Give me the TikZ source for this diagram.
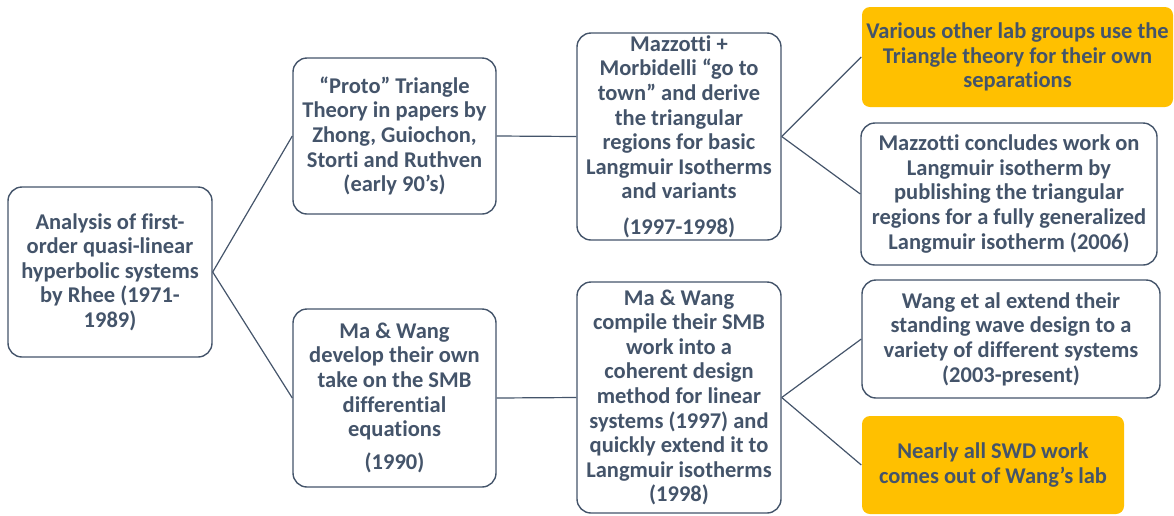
\documentclass[tikz,border=0pt]{standalone}
\usepackage{fontspec}
\setmainfont{Carlito}[Ligatures=NoCommon]
\definecolor{txt}{HTML}{44546A}
\definecolor{gold}{HTML}{FFC000}
\begin{document}
\begin{tikzpicture}[x=1pt,y=-1pt,
 box/.style={draw=txt, line width=1.4pt, rounded corners=14pt, fill=white, inner sep=0pt, align=center, text=txt, font=\bfseries\fontsize{22.5}{24.6}\selectfont},
 hl/.style={box, draw=none, fill=gold, rounded corners=8pt},
 link/.style={draw=txt, line width=1.2pt}]
\useasboundingbox (0,0) rectangle (1174,515);
\node[box, minimum width=204, minimum height=170] (A) at (110,272)
 {Analysis of first-\\order quasi-linear\\hyperbolic systems\\by Rhee (1971-\\1989)};
\node[box, minimum width=203, minimum height=156] (B) at (394.5,136)
 {“Proto” Triangle\\Theory in papers by\\Zhong, Guiochon,\\Storti and Ruthven\\(early 90’s)};
\node[box, minimum width=203, minimum height=178] (F) at (394.5,398)
 {Ma \& Wang\\develop their own\\take on the SMB\\differential\\equations\\[8.5pt](1990)};
\node[box, minimum width=204, minimum height=207] (C) at (679,136.5)
 {Mazzotti +\\Morbidelli “go to\\town” and derive\\the triangular\\regions for basic\\Langmuir Isotherms\\and variants\\[10.5pt](1997-1998)};
\node[box, minimum width=204, minimum height=231] (G) at (679,397.5)
 {Ma \& Wang\\compile their SMB\\work into a\\coherent design\\method for linear\\systems (1997) and\\quickly extend it to\\Langmuir isotherms\\(1998)};
\node[hl, minimum width=311, minimum height=100] (D) at (1017.5,57)
 {Various other lab groups use the\\Triangle theory for their own\\separations};
\node[box, minimum width=296, minimum height=142] (E) at (1009,194)
 {Mazzotti concludes work on\\Langmuir isotherm by\\publishing the triangular\\regions for a fully generalized\\Langmuir isotherm (2006)};
\node[box, minimum width=298, minimum height=118] (H) at (1011,339)
 {Wang et al extend their\\standing wave design to a\\variety of different systems\\(2003-present)};
\node[hl, minimum width=262, minimum height=98] (I) at (993,465)
 {Nearly all SWD work\\comes out of Wang’s lab};
\draw[link] (A.east) -- (B.west);
\draw[link] (A.east) -- (F.west);
\draw[link] (B.east) -- (C.west);
\draw[link] (F.east) -- (G.west);
\draw[link] (C.east) -- (D.west);
\draw[link] (C.east) -- (E.west);
\draw[link] (G.east) -- (H.west);
\draw[link] (G.east) -- (I.west);
\end{tikzpicture}
\end{document}
